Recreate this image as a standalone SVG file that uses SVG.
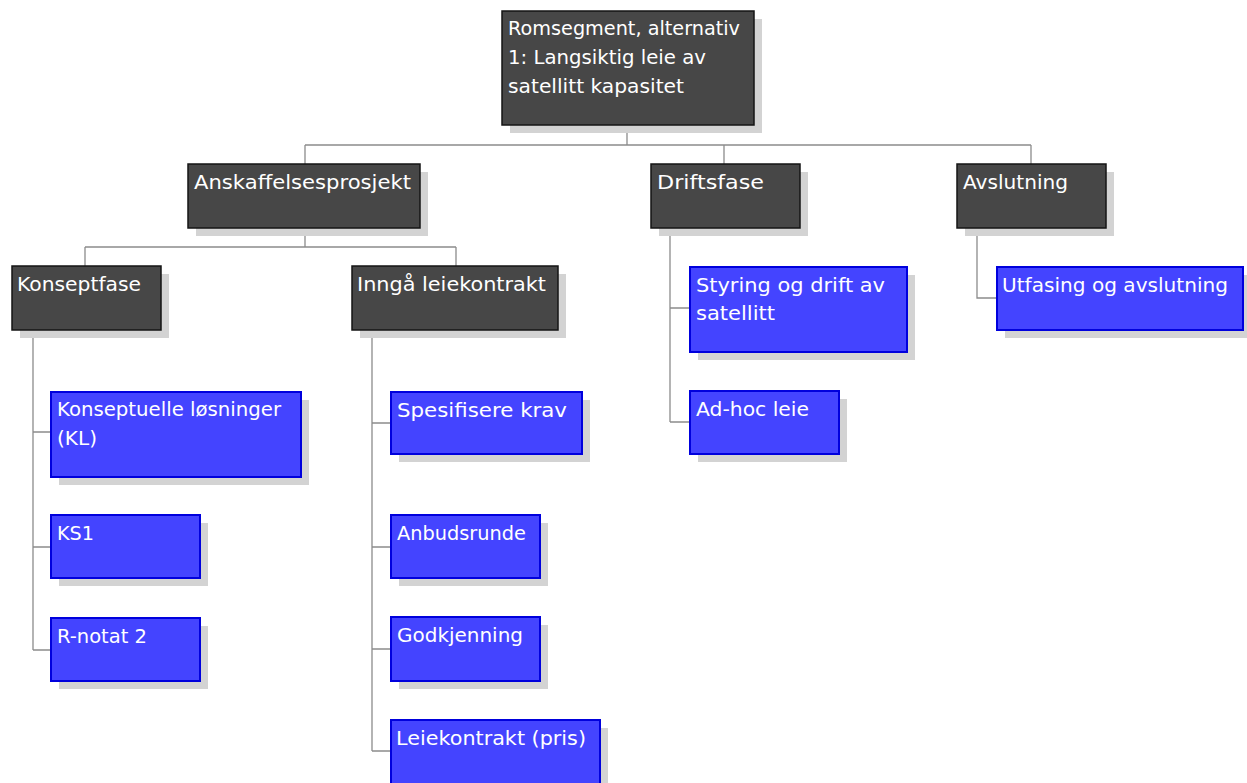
<svg xmlns="http://www.w3.org/2000/svg" width="1247" height="783" viewBox="0 0 1247 783">
<style>
.sh{fill:#d3d3d3}
.dk{fill:#474747;stroke:#151515;stroke-width:1.5}
.bl{fill:#4444ff;stroke:#0000dd;stroke-width:2}
.t{font-family:"DejaVu Sans","Liberation Sans",sans-serif;font-size:20px;fill:#ffffff}
.c{fill:none;stroke:#8c8c8c;stroke-width:1.3}
</style>
<rect width="1247" height="783" fill="#ffffff"/>
<g id="connectors">
<path class="c" d="M627,125V145M305,145H1031M305,145V164M724,145V164M1031,145V164"/>
<path class="c" d="M305,228V247M85,247H456M85,247V266M456,247V266"/>
<path class="c" d="M33,330V650M33,432H51M33,547H51M33,650H51"/>
<path class="c" d="M372,330V751M372,423H391M372,547H391M372,649H391M372,751H391"/>
<path class="c" d="M670,228V422M670,308H690M670,422H690"/>
<path class="c" d="M977,228V298H997"/>
</g>
<g id="root">
<rect class="sh" x="510" y="19" width="252" height="114"/>
<rect class="dk" x="502" y="11" width="252" height="114"/>
<text class="t" x="508" y="35" textLength="232" lengthAdjust="spacingAndGlyphs">Romsegment, alternativ</text>
<text class="t" x="508" y="64" textLength="198" lengthAdjust="spacingAndGlyphs">1: Langsiktig leie av</text>
<text class="t" x="508" y="93" textLength="176" lengthAdjust="spacingAndGlyphs">satellitt kapasitet</text>
</g>
<g id="anskaffelse">
<rect class="sh" x="196" y="172" width="232" height="64"/>
<rect class="dk" x="188" y="164" width="232" height="64"/>
<text class="t" x="194" y="189" textLength="217" lengthAdjust="spacingAndGlyphs">Anskaffelsesprosjekt</text>
</g>
<g id="driftsfase">
<rect class="sh" x="659" y="172" width="149" height="64"/>
<rect class="dk" x="651" y="164" width="149" height="64"/>
<text class="t" x="657" y="189" textLength="107" lengthAdjust="spacingAndGlyphs">Driftsfase</text>
</g>
<g id="avslutning">
<rect class="sh" x="965" y="172" width="149" height="64"/>
<rect class="dk" x="957" y="164" width="149" height="64"/>
<text class="t" x="963" y="189" textLength="105" lengthAdjust="spacingAndGlyphs">Avslutning</text>
</g>
<g id="konseptfase">
<rect class="sh" x="20" y="274" width="149" height="64"/>
<rect class="dk" x="12" y="266" width="149" height="64"/>
<text class="t" x="17" y="291" textLength="124" lengthAdjust="spacingAndGlyphs">Konseptfase</text>
</g>
<g id="inngaa">
<rect class="sh" x="360" y="274" width="206" height="64"/>
<rect class="dk" x="352" y="266" width="206" height="64"/>
<text class="t" x="357" y="291" textLength="189" lengthAdjust="spacingAndGlyphs">Inngå leiekontrakt</text>
</g>
<g id="kl">
<rect class="sh" x="59" y="400" width="250" height="85"/>
<rect class="bl" x="51" y="392" width="250" height="85"/>
<text class="t" x="57" y="416" textLength="224" lengthAdjust="spacingAndGlyphs">Konseptuelle løsninger</text>
<text class="t" x="57" y="445" textLength="40" lengthAdjust="spacingAndGlyphs">(KL)</text>
</g>
<g id="ks1">
<rect class="sh" x="59" y="523" width="149" height="63"/>
<rect class="bl" x="51" y="515" width="149" height="63"/>
<text class="t" x="57" y="540" textLength="37" lengthAdjust="spacingAndGlyphs">KS1</text>
</g>
<g id="rnotat">
<rect class="sh" x="59" y="626" width="149" height="63"/>
<rect class="bl" x="51" y="618" width="149" height="63"/>
<text class="t" x="57" y="643" textLength="90" lengthAdjust="spacingAndGlyphs">R-notat 2</text>
</g>
<g id="spesifisere">
<rect class="sh" x="399" y="400" width="191" height="62"/>
<rect class="bl" x="391" y="392" width="191" height="62"/>
<text class="t" x="397" y="417" textLength="170" lengthAdjust="spacingAndGlyphs">Spesifisere krav</text>
</g>
<g id="anbud">
<rect class="sh" x="399" y="523" width="149" height="63"/>
<rect class="bl" x="391" y="515" width="149" height="63"/>
<text class="t" x="397" y="540" textLength="129" lengthAdjust="spacingAndGlyphs">Anbudsrunde</text>
</g>
<g id="godkjenning">
<rect class="sh" x="399" y="625" width="149" height="64"/>
<rect class="bl" x="391" y="617" width="149" height="64"/>
<text class="t" x="397" y="642" textLength="126" lengthAdjust="spacingAndGlyphs">Godkjenning</text>
</g>
<g id="leiekontrakt">
<rect class="sh" x="399" y="728" width="209" height="64"/>
<rect class="bl" x="391" y="720" width="209" height="64"/>
<text class="t" x="396" y="745" textLength="190" lengthAdjust="spacingAndGlyphs">Leiekontrakt (pris)</text>
</g>
<g id="styring">
<rect class="sh" x="698" y="275" width="217" height="85"/>
<rect class="bl" x="690" y="267" width="217" height="85"/>
<text class="t" x="696" y="292" textLength="189" lengthAdjust="spacingAndGlyphs">Styring og drift av</text>
<text class="t" x="696" y="320" textLength="79" lengthAdjust="spacingAndGlyphs">satellitt</text>
</g>
<g id="adhoc">
<rect class="sh" x="698" y="399" width="149" height="63"/>
<rect class="bl" x="690" y="391" width="149" height="63"/>
<text class="t" x="696" y="416" textLength="113" lengthAdjust="spacingAndGlyphs">Ad-hoc leie</text>
</g>
<g id="utfasing">
<rect class="sh" x="1005" y="275" width="246" height="63"/>
<rect class="bl" x="997" y="267" width="246" height="63"/>
<text class="t" x="1002" y="292" textLength="226" lengthAdjust="spacingAndGlyphs">Utfasing og avslutning</text>
</g>
</svg>
